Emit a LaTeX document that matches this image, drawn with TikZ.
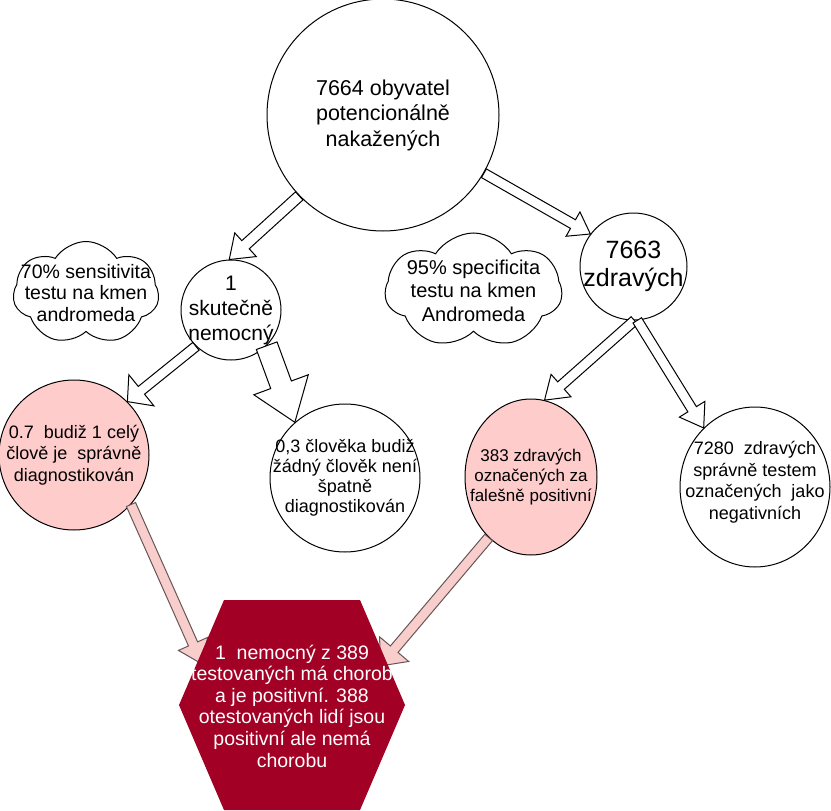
\documentclass[tikz,border=0pt]{standalone}
\usepackage{fontspec}
\setmainfont{Liberation Sans}
\usepackage{tikz}
\usetikzlibrary{calc, shapes.geometric, shapes.symbols}
\definecolor{hexred}{RGB}{162, 0, 37}
\definecolor{pinkfill}{RGB}{255, 204, 204}
\definecolor{pinkarrow}{RGB}{248, 206, 204}
\definecolor{pinkline}{RGB}{105, 85, 85}

\newcommand{\fsz}[2]{\fontsize{#1}{#2}\selectfont}
% block arrow: [style]{from}{to}{half body}{half head}{head length}
\newcommand{\flexarrow}[6][flow]{%
  \coordinate (fa-s) at (#2);
  \coordinate (fa-t) at (#3);
  \coordinate (fa-h) at ($(fa-t)!#6!(fa-s)$);
  \draw[#1] ($(fa-s)!#4!90:(fa-t)$) -- ($(fa-h)!#4!90:(fa-t)$)
    -- ($(fa-h)!#5!90:(fa-t)$) -- (fa-t) -- ($(fa-h)!#5!-90:(fa-t)$)
    -- ($(fa-h)!#4!-90:(fa-t)$) -- ($(fa-s)!#4!-90:(fa-t)$) -- cycle;
}

\begin{document}
\begin{tikzpicture}[x=1pt, y=-1pt, line width=1pt,
  disc/.style={circle, draw, fill=white, inner sep=0pt},
  oval/.style={ellipse, draw, fill=white, inner sep=0pt},
  puff/.style={cloud, cloud puffs=7, cloud puff arc=115, cloud ignores aspect, draw, fill=white, inner sep=0pt},
  lbl/.style={align=center, inner sep=0pt},
  flow/.style={draw, fill=white, line join=miter},
  pinkflow/.style={draw=pinkline, fill=pinkarrow, line join=miter}]
  \fill[white] (0,0) rectangle (831,811);
  \useasboundingbox (0,0) rectangle (831,811);

  % population and its split
  \node[disc, minimum size=232pt, label={[lbl, font=\fsz{21.5}{25.5}]center:{7664 obyvatel\\potencionálně\\nakažených}}] (big) at (383,115) {};
  \node[disc, minimum size=100pt, label={[lbl, font=\fsz{21}{25}]center:{1\\skutečně\\nemocný}}] (sick) at (231,310) {};
  \node[disc, minimum size=107pt, label={[lbl, font=\fsz{25}{28}]center:{7663\\zdravých}}] (healthy) at (633.5,266.5) {};

  % test properties
  \node[puff, minimum width=146pt, minimum height=103pt, label={[lbl, font=\fsz{19.5}{21.5}]center:{70\% sensitivita\\testu na kmen\\andromeda}}] (sens) at (86,293) {};
  \node[puff, minimum width=177pt, minimum height=115pt, label={[lbl, font=\fsz{20}{23.5}]center:{95\% specificita\\testu na kmen\\Andromeda}}] (spec) at (473.5,290.5) {};

  % test outcomes
  \node[disc, fill=pinkfill, minimum size=150pt, label={[lbl, font=\fsz{18}{21.5}]center:{0.7~ budiž 1 celý\\člově je~ správně\\diagnostikován}}] (tp) at (74,455) {};
  \node[oval, minimum width=150pt, minimum height=148pt, label={[lbl, font=\fsz{18}{20}]center:{0,3 člověka budiž\\žádný člověk není\\špatně\\diagnostikován}}] (fn) at (345,478) {};
  \node[oval, fill=pinkfill, minimum width=132pt, minimum height=156pt, label={[lbl, font=\fsz{17}{20}]center:{383 zdravých\\označených za\\falešně positivní}}] (fp) at (531,477) {};
  \node[oval, minimum width=150pt, minimum height=160pt, label={[lbl, yshift=5pt, font=\fsz{18}{21.5}]center:{7280~ zdravých\\správně testem\\označených~ jako\\negativních}}] (neg) at (755,487) {};

  \coordinate (hexL) at (202,664);
  \coordinate (hexR) at (380,666);

  \flexarrow{big.224}{sick.92}{5.5pt}{16pt}{22pt}
  \flexarrow{big.-30}{healthy.143}{5pt}{14pt}{20pt}
  \flexarrow{sick.226}{tp.45}{5pt}{20pt}{18pt}
  \flexarrow{sick.-45}{fn.132}{11pt}{29pt}{40pt}
  \flexarrow{healthy.-89}{fp.80}{5pt}{15pt}{22pt}
  \flexarrow{healthy.-86}{neg.131}{5pt}{15pt}{22pt}
  \flexarrow[pinkflow]{tp.-41}{hexL}{5pt}{16pt}{22pt}
  \flexarrow[pinkflow]{fp.235}{hexR}{5pt}{19pt}{22pt}

  % result
  \fill[hexred] (179,705) -- (224,600) -- (360,600) -- (405,705) -- (360,810) -- (224,810) -- cycle;
  \node[lbl, text=white, font=\fsz{19.5}{21.6}] (hexa) at (292,706) {1~ nemocný z 389\\testovaných má chorob\\a je positivní. 388\\otestovaných lidí jsou\\positivní ale nemá\\chorobu};
\end{tikzpicture}
\end{document}
